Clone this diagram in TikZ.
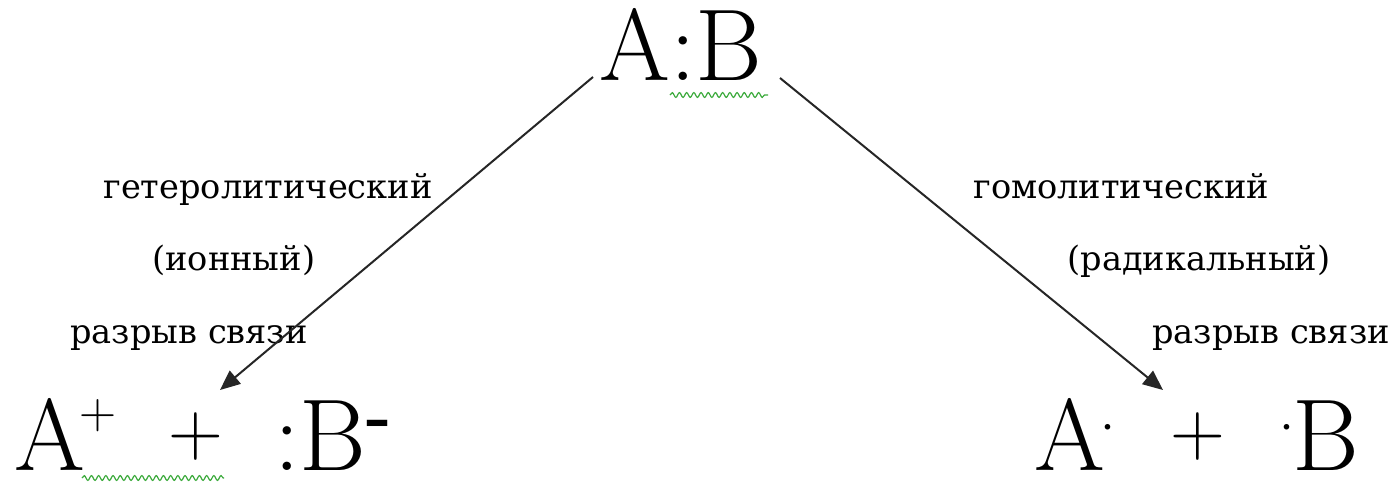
\documentclass[tikz,border=0pt]{standalone}
\usepackage{fontspec}
\newfontfamily\labelfont{DejaVu Serif}
\usepackage{tikz}
\usepackage{xcolor}
\usetikzlibrary{positioning,calc,arrows.meta,decorations.pathmorphing}
\definecolor{spellgreen}{RGB}{60,170,60}
\newcommand{\supsym}[3]{\raisebox{#1}{\fontsize{#2}{#2}\selectfont #3}}

\begin{document}
\begin{tikzpicture}[
    x=0.5pt, y=-0.5pt,
    big/.style={inner sep=0pt, anchor=base west, font=\fontsize{51pt}{51pt}\selectfont},
    op/.style={inner sep=0pt, anchor=base west, font=\fontsize{38pt}{38pt}\selectfont},
    lbl/.style={inner sep=0pt, anchor=base west, font=\labelfont\fontsize{16.8pt}{16.8pt}\selectfont},
    bondarrow/.style={-{Triangle[length=10pt, width=8.5pt]}, line width=1pt, draw=black!85},
    wavy/.style={draw=spellgreen, line width=0.6pt, decorate, decoration={snake, amplitude=1.2pt, segment length=3.6pt}}
]
\useasboundingbox (0,0) rectangle (1393,489);

% molecule
\node[big] (AB) at (599,80) {A:B};

% heterolytic products
\node[big] (Aion) at (14,470) {A\kern-3pt\supsym{21pt}{25.7pt}{+}};
\node[op] (plusL) at (168,455) {+};
\node[big] (Bion) at (274,470) {:B\supsym{16pt}{34pt}{\textbf{-}}};

% homolytic products
\node[big] (Arad) at (1034,470) {A\kern-11pt\supsym{10pt}{34pt}{·}};
\node[op] (plusR) at (1170,455) {+};
\node[big] (Brad) at (1262,470) {\supsym{10pt}{34pt}{·}\kern-9.5pt B};

% labels
\node[lbl] (het) at (103,198) {гетеролитический};
\node[lbl] (ion) at (152,270) {(ионный)};
\node[lbl] (brkL) at (70,343) {разрыв связи};
\node[lbl] (hom) at (973,198) {гомолитический};
\node[lbl] (rad) at (1067,270) {(радикальный)};
\node[lbl] (brkR) at (1152,343) {разрыв связи};

\coordinate (hetTip) at (220,390);
\coordinate (homTip) at (1163,390);

\draw[bondarrow] ($(AB.base west)+(-6,-3)$) -- (hetTip);
\draw[bondarrow] ($(AB.base west)+(181,-2)$) -- (homTip);

% spell-check underlines
\draw[wavy] (670,95) -- (768,95);
\draw[wavy] (82,478) -- (224,478);

\end{tikzpicture}
\end{document}
